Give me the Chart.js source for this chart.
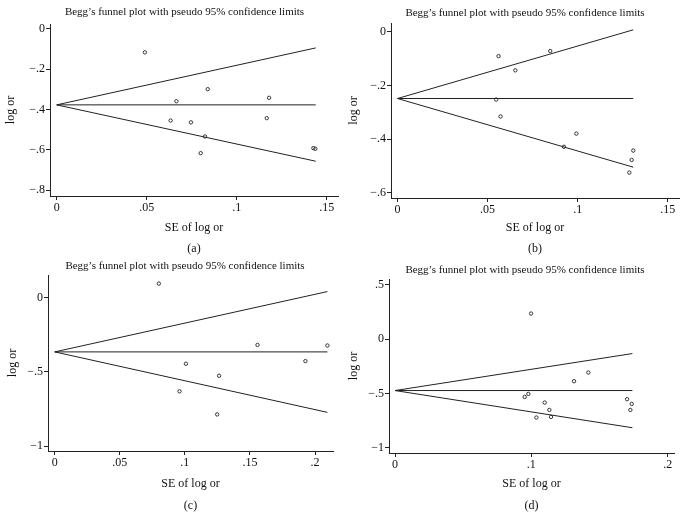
<!DOCTYPE html>
<html>
<head>
<meta charset="utf-8">
<title>Begg's funnel plots</title>
<script src="https://cdn.jsdelivr.net/npm/chart.js@4.4.1/dist/chart.umd.min.js"></script>
<style>
  html, body { margin: 0; padding: 0; background: #fff; }
  body { width: 682px; height: 527px; position: relative; overflow: hidden; }
  canvas { position: absolute; }
</style>
</head>
<body>
<canvas id="plotA" width="341" height="263" style="left:0;top:0"></canvas>
<canvas id="plotB" width="341" height="263" style="left:341px;top:0"></canvas>
<canvas id="plotC" width="341" height="277" style="left:0;top:250px"></canvas>
<canvas id="plotD" width="341" height="277" style="left:341px;top:250px"></canvas>
<script>
// (a)
const seA = [0.049, 0.0665, 0.0633, 0.0746, 0.0839, 0.0824, 0.080, 0.1167, 0.118, 0.1426, 0.1437];
const logOrA = [-0.116, -0.359, -0.455, -0.464, -0.299, -0.534, -0.617, -0.443, -0.342, -0.592, -0.595];
const funnelSeA = [0, 0.1439];
const meanA = [-0.377, -0.377];
const upperA = [-0.377, -0.094];
const lowerA = [-0.377, -0.657];
const xTicksA = [0, 0.05, 0.1, 0.15];
const xLabelsA = ['0', '.05', '.1', '.15'];
const yTicksA = [0, -0.2, -0.4, -0.6, -0.8];
const yLabelsA = ['0', '\u2212.2', '\u2212.4', '\u2212.6', '\u2212.8'];

// (b)
const seB = [0.0561, 0.0848, 0.0654, 0.0548, 0.0572, 0.0993, 0.0924, 0.1309, 0.130, 0.1287];
const logOrB = [-0.091, -0.072, -0.144, -0.253, -0.316, -0.380, -0.429, -0.443, -0.478, -0.525];
const funnelSeB = [0, 0.1309];
const meanB = [-0.249, -0.249];
const upperB = [-0.249, 0.007];
const lowerB = [-0.249, -0.505];
const xTicksB = [0, 0.05, 0.1, 0.15];
const xLabelsB = ['0', '.05', '.1', '.15'];
const yTicksB = [0, -0.2, -0.4, -0.6];
const yLabelsB = ['0', '\u2212.2', '\u2212.4', '\u2212.6'];

// (c)
const seC = [0.080, 0.1558, 0.2095, 0.1008, 0.1926, 0.1263, 0.0959, 0.1248];
const logOrC = [0.096, -0.318, -0.322, -0.445, -0.427, -0.526, -0.631, -0.787];
const funnelSeC = [0, 0.2095];
const meanC = [-0.365, -0.365];
const upperC = [-0.365, 0.042];
const lowerC = [-0.365, -0.773];
const xTicksC = [0, 0.05, 0.1, 0.15, 0.2];
const xLabelsC = ['0', '.05', '.1', '.15', '.2'];
const yTicksC = [0, -0.5, -1];
const yLabelsC = ['0', '\u2212.5', '\u22121'];

// (d)
const seD = [0.0998, 0.1418, 0.1313, 0.0951, 0.0978, 0.1098, 0.1132, 0.1037, 0.1144, 0.1702, 0.1736, 0.1726];
const logOrD = [0.237, -0.307, -0.387, -0.532, -0.504, -0.584, -0.652, -0.722, -0.716, -0.553, -0.596, -0.652];
const funnelSeD = [0, 0.1741];
const meanD = [-0.473, -0.473];
const upperD = [-0.473, -0.132];
const lowerD = [-0.473, -0.816];
const xTicksD = [0, 0.1, 0.2];
const xLabelsD = ['0', '.1', '.2'];
const yTicksD = [0.5, 0, -0.5, -1];
const yLabelsD = ['.5', '0', '\u2212.5', '\u22121'];

const titleText = 'Begg\u2019s funnel plot with pseudo 95% confidence limits';
const xTitleText = 'SE of log or';
const yTitleText = 'log or';

const ink = '#222';
const serif = 'Liberation Serif, Times New Roman, serif';

const pairs = (xs, ys) => xs.map((x, i) => ({ x: x, y: ys[i] }));

const lineSet = (xs, ys) => ({
  data: pairs(xs, ys),
  showLine: true,
  borderColor: ink,
  borderWidth: 1,
  pointRadius: 0,
  fill: false
});

// move the title box sideways (title is not centred on the plot area)
const shiftTitle = dx => ({
  id: 'shiftTitle',
  afterLayout(chart) {
    const t = chart.titleBlock;
    if (t) { t.left += dx; t.right += dx; }
  }
});

function funnelChart(id, p) {
  const ctx = document.getElementById(id);
  const tickCfg = (values, labels) => ({
    font: { family: serif, size: 12 },
    color: '#111',
    padding: 1,
    autoSkip: false,
    maxRotation: 0,
    callback: v => {
      const k = values.findIndex(t => Math.abs(t - v) < 1e-9);
      return k < 0 ? '' : labels[k];
    }
  });
  const gridCfg = {
    display: true,
    drawOnChartArea: false,
    drawTicks: true,
    tickLength: 4,
    tickColor: ink,
    lineWidth: 1
  };

  return new Chart(ctx, {
    type: 'scatter',
    data: {
      datasets: [
        lineSet(p.funnelSe, p.mean),
        lineSet(p.funnelSe, p.upper),
        lineSet(p.funnelSe, p.lower),
        {
          data: pairs(p.se, p.logOr),
          pointStyle: 'circle',
          pointRadius: 1.7,
          pointBorderWidth: 0.9,
          pointBorderColor: ink,
          pointBackgroundColor: 'rgba(255,255,255,0)',
          showLine: false
        }
      ]
    },
    plugins: [shiftTitle(p.titleDx)],
    options: {
      responsive: false,
      animation: false,
      events: [],
      layout: {
        autoPadding: false,
        padding: { left: 0, top: 0, right: p.padRight, bottom: p.padBottom }
      },
      plugins: {
        legend: { display: false },
        tooltip: { enabled: false },
        title: {
          display: true,
          text: titleText,
          fullSize: false,
          color: '#111',
          font: { family: serif, size: 11, weight: 'normal' },
          padding: { top: p.titlePadTop, bottom: p.titlePadBottom }
        },
        subtitle: {
          display: true,
          position: 'bottom',
          text: p.panel,
          fullSize: false,
          color: '#111',
          font: { family: serif, size: 12 },
          padding: 0
        }
      },
      scales: {
        x: {
          type: 'linear',
          position: 'bottom',
          min: p.xMin,
          max: p.xMax,
          afterBuildTicks: s => { s.ticks = p.xTicks.map(v => ({ value: v })); },
          afterFit: s => { s.height = p.xAxisHeight; },
          ticks: tickCfg(p.xTicks, p.xLabels),
          grid: gridCfg,
          border: { display: true, color: ink, width: 1 },
          title: {
            display: true,
            text: xTitleText,
            color: '#111',
            font: { family: serif, size: 12 },
            padding: { top: 0, bottom: p.xTitlePad }
          }
        },
        y: {
          type: 'linear',
          position: 'left',
          min: p.yMin,
          max: p.yMax,
          afterBuildTicks: s => { s.ticks = p.yTicks.map(v => ({ value: v })); },
          afterFit: s => { s.width = p.yAxisWidth; },
          ticks: tickCfg(p.yTicks, p.yLabels),
          grid: gridCfg,
          border: { display: true, color: ink, width: 1 },
          title: {
            display: true,
            text: yTitleText,
            color: '#111',
            font: { family: serif, size: 12 },
            padding: { top: p.yTitlePad, bottom: 0 }
          }
        }
      }
    }
  });
}

funnelChart('plotA', {
  panel: '(a)', se: seA, logOr: logOrA, funnelSe: funnelSeA, mean: meanA, upper: upperA, lower: lowerA,
  xTicks: xTicksA, xLabels: xLabelsA, yTicks: yTicksA, yLabels: yLabelsA,
  xMin: -0.00372, xMax: 0.15628, yMin: -0.8298, yMax: 0.0248,
  yAxisWidth: 50, padRight: 3, xAxisHeight: 45.8, padBottom: 6.8,
  titlePadTop: 5.4, titlePadBottom: 5.4, xTitlePad: 6.3, yTitlePad: 3.8, titleDx: -9.5
});

funnelChart('plotB', {
  panel: '(b)', se: seB, logOr: logOrB, funnelSe: funnelSeB, mean: meanB, upper: upperB, lower: lowerB,
  xTicks: xTicksB, xLabels: xLabelsB, yTicks: yTicksB, yLabels: yLabelsB,
  xMin: -0.00361, xMax: 0.15628, yMin: -0.6198, yMax: 0.0324,
  yAxisWidth: 50, padRight: 3, xAxisHeight: 44.1, padBottom: 6.5,
  titlePadTop: 6.1, titlePadBottom: 3.7, xTitlePad: 7.2, yTitlePad: 6.1, titleDx: -10
});

funnelChart('plotC', {
  panel: '(c)', se: seC, logOr: logOrC, funnelSe: funnelSeC, mean: meanC, upper: upperC, lower: lowerC,
  xTicks: xTicksC, xLabels: xLabelsC, yTicks: yTicksC, yLabels: yLabelsC,
  xMin: -0.00515, xMax: 0.2138, yMin: -1.0337, yMax: 0.1538,
  yAxisWidth: 48, padRight: 8, xAxisHeight: 47.5, padBottom: 14.1,
  titlePadTop: 9.4, titlePadBottom: 2.4, xTitlePad: 7.3, yTitlePad: 5.3, titleDx: -5.5
});

funnelChart('plotD', {
  panel: '(d)', se: seD, logOr: logOrD, funnelSe: funnelSeD, mean: meanD, upper: upperD, lower: lowerD,
  xTicks: xTicksD, xLabels: xLabelsD, yTicks: yTicksD, yLabels: yLabelsD,
  xMin: -0.0044, xMax: 0.2046, yMin: -1.0488, yMax: 0.5553,
  yAxisWidth: 48, padRight: 8, xAxisHeight: 45.5, padBottom: 14.1,
  titlePadTop: 13.4, titlePadBottom: 2.4, xTitlePad: 7.3, yTitlePad: 5.3, titleDx: -6.5
});
</script>
</body>
</html>
